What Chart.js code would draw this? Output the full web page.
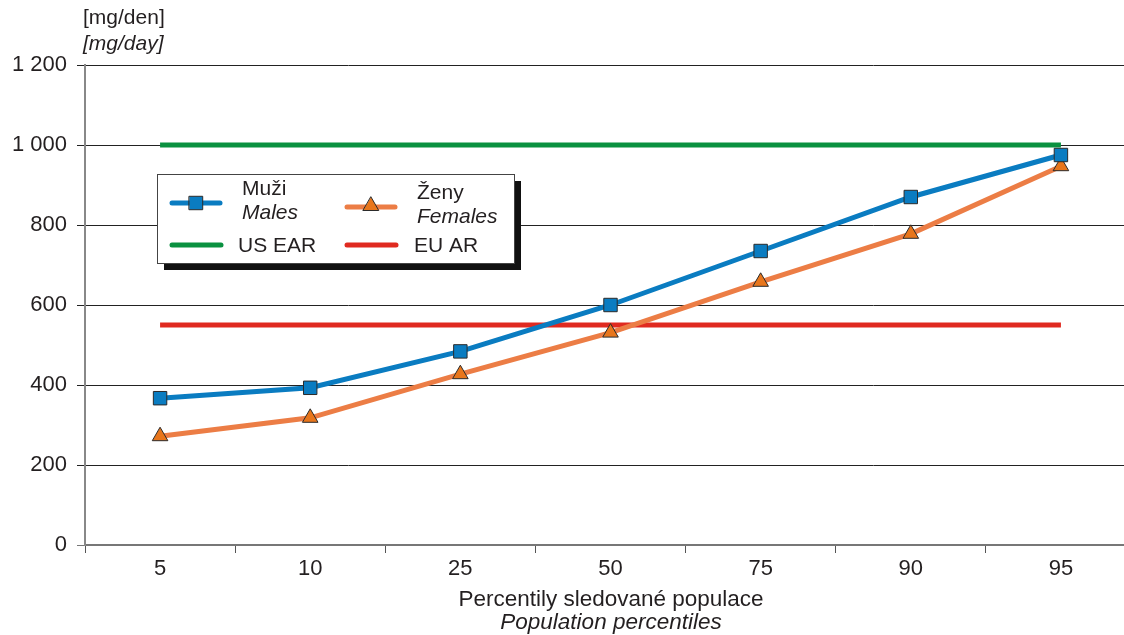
<!DOCTYPE html>
<html>
<head>
<meta charset="utf-8">
<script src="https://cdn.jsdelivr.net/npm/chart.js@4.4.0/dist/chart.umd.min.js"></script>
<style>
  html, body { margin: 0; padding: 0; background: #fff; overflow: hidden; }
  canvas { display: block; }
</style>
</head>
<body>
<canvas id="myChart" width="1136" height="635"></canvas>
<script>
const percentiles = ['5', '10', '25', '50', '75', '90', '95'];
const males = [367, 393, 484, 600, 735, 870, 975];
const females = [272, 318, 427, 531, 658, 778, 947];
const usEar = [1000, 1000, 1000, 1000, 1000, 1000, 1000];
const euAr = [550, 550, 550, 550, 550, 550, 550];

const FONT = 'Liberation Sans, Arial, sans-serif';
const ctx = document.getElementById('myChart');

// legend box + axis titles drawn by hand (two-line, mixed italic)
const extras = {
    id: 'extras',
    afterDraw(chart) {
        const c = chart.ctx;
        const ds = chart.data.datasets;
        c.save();
        c.fillStyle = '#231f20';
        c.textBaseline = 'middle';
        c.font = '21px ' + FONT;
        c.textAlign = 'left';
        c.fillText('[mg/den]', 83, 18);
        c.font = 'italic 21px ' + FONT;
        c.fillText('[mg/day]', 83, 44);

        c.textAlign = 'center';
        c.font = '22.5px ' + FONT;
        c.fillText('Percentily sledované populace', 611, 600);
        c.font = 'italic 22.5px ' + FONT;
        c.fillText('Population percentiles', 611, 623);

        // legend
        const bx = 157, by = 174, bw = 357, bh = 89;
        c.fillStyle = '#111';
        c.fillRect(bx + 7, by + 7, bw, bh);
        c.fillStyle = '#fff';
        c.fillRect(bx, by, bw, bh);
        c.strokeStyle = '#444';
        c.lineWidth = 1;
        c.strokeRect(bx + 0.5, by + 0.5, bw, bh);

        const sample = (d, x1, x2, y) => {
            c.strokeStyle = d.borderColor;
            c.lineWidth = 5;
            c.lineCap = 'round';
            c.beginPath();
            c.moveTo(x1, y);
            c.lineTo(x2, y);
            c.stroke();
        };
        const marker = (d, x, y) => {
            c.fillStyle = d.pointBackgroundColor;
            c.strokeStyle = d.pointBorderColor;
            c.lineWidth = 1;
            Chart.helpers.drawPoint(c, {pointStyle: d.pointStyle, radius: d.pointRadius, borderWidth: 1}, x, y);
        };
        sample(ds[0], 172, 220, 203);
        marker(ds[0], 196, 203);
        sample(ds[1], 347, 395, 207);
        marker(ds[1], 371, 206);
        sample(ds[2], 172, 221, 245);
        sample(ds[3], 347, 396, 245);

        c.fillStyle = '#231f20';
        c.textAlign = 'left';
        c.font = '21px ' + FONT;
        c.fillText('Muži', 242, 189);
        c.fillText('Ženy', 417, 193);
        c.fillText('US EAR', 238, 246);
        c.fillText('EU AR', 414, 246);
        c.font = 'italic 21px ' + FONT;
        c.fillText('Males', 242, 213);
        c.fillText('Females', 417, 217);
        c.restore();
    }
};

new Chart(ctx, {
    type: 'line',
    data: {
        labels: percentiles,
        datasets: [{
            label: 'Muži / Males',
            data: males,
            borderColor: '#0a7cc1',
            borderWidth: 5,
            pointStyle: 'rect',
            pointRadius: 9.5,
            pointBackgroundColor: '#0a7cc1',
            pointBorderColor: '#2b2b2b',
            pointBorderWidth: 1,
            order: 1
        }, {
            label: 'Ženy / Females',
            data: females,
            borderColor: '#ec7d45',
            borderWidth: 5,
            pointStyle: 'triangle',
            pointRadius: 9,
            pointBackgroundColor: '#e8761c',
            pointBorderColor: '#2b2b2b',
            pointBorderWidth: 1,
            order: 2
        }, {
            label: 'US EAR',
            data: usEar,
            borderColor: '#0a9140',
            borderWidth: 5,
            pointRadius: 0,
            order: 3
        }, {
            label: 'EU AR',
            data: euAr,
            borderColor: '#e02a20',
            borderWidth: 5,
            pointRadius: 0,
            order: 4
        }]
    },
    options: {
        responsive: false,
        animation: false,
        layout: { autoPadding: false, padding: { top: 65, right: 0, left: 0, bottom: 0 } },
        plugins: {
            legend: { display: false },
            tooltip: { enabled: false }
        },
        scales: {
            x: {
                offset: true,
                border: { color: '#777', width: 2 },
                grid: { drawOnChartArea: false, drawTicks: true, tickLength: 8, color: '#555', offset: true },
                ticks: { color: '#231f20', font: { family: FONT, size: 22 }, padding: 3 },
                afterFit(s) { s.height = 90; s.paddingLeft = 0; s.paddingRight = 0; }
            },
            y: {
                min: 0,
                max: 1200,
                border: { color: '#888', width: 2 },
                grid: {
                    color: (c) => c.tick && c.tick.value === 0 ? '#777' : '#222',
                    lineWidth: 1,
                    tickLength: 8
                },
                ticks: {
                    stepSize: 200,
                    color: '#231f20',
                    font: { family: FONT, size: 22 },
                    padding: 10,
                    callback: (v) => String(v).replace(/\B(?=(\d{3})+(?!\d))/g, ' ')
                },
                afterFit(s) { s.width = 85; s.paddingTop = 0; s.paddingBottom = 0; }
            }
        }
    },
    plugins: [extras]
});
</script>
</body>
</html>
